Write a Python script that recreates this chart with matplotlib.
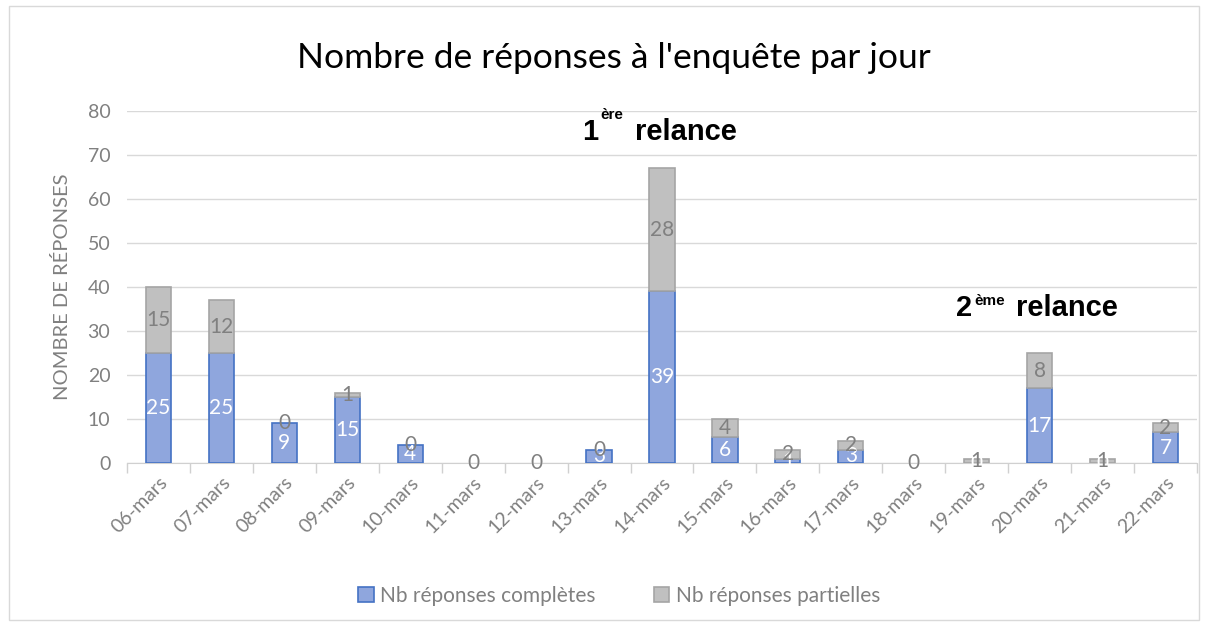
import matplotlib.pyplot as plt
import numpy as np
from matplotlib.patches import Rectangle

plt.rcParams['font.family'] = ['Lato', 'DejaVu Sans']

# jours et nombre de réponses
jours = ["06-mars", "07-mars", "08-mars", "09-mars", "10-mars", "11-mars", "12-mars",
         "13-mars", "14-mars", "15-mars", "16-mars", "17-mars", "18-mars", "19-mars",
         "20-mars", "21-mars", "22-mars"]
completes = [25, 25, 9, 15, 4, 0, 0, 3, 39, 6, 1, 3, 0, 0, 17, 0, 7]
partielles = [15, 12, 0, 1, 0, 0, 0, 0, 28, 4, 2, 2, 0, 1, 8, 1, 2]

GRIS = "#808080"

fig = plt.figure(figsize=(12.06, 6.24), dpi=100)
ax = fig.add_axes([127 / 1206, 1 - 463 / 624, (1197 - 127) / 1206, (463 - 111) / 624])

x = np.arange(len(jours))
# pas de contour pour les barres vides
lw1 = [1.2 if v > 0 else 0 for v in completes]
lw2 = [1.2 if v > 0 else 0 for v in partielles]
b1 = ax.bar(x, completes, width=0.4, color="#8FA6DD", edgecolor="#4472C4", linewidth=lw1,
            label="Nb réponses complètes", zorder=3)
b2 = ax.bar(x, partielles, width=0.4, bottom=completes, color="#C0C0C0", edgecolor="#A5A5A5",
            linewidth=lw2, label="Nb réponses partielles", zorder=3)

ax.bar_label(b1, label_type="center", color="white", fontsize=15, zorder=4)
ax.bar_label(b2, label_type="center", color=GRIS, fontsize=15, zorder=4)

ax.set_xlim(-0.5, len(jours) - 0.5)
ax.set_ylim(0, 80)
ax.set_yticks(range(0, 81, 10))
ax.tick_params(axis="y", length=0, labelsize=14, labelcolor=GRIS, pad=12)
ax.set_xticks(x)
ax.set_xticklabels(jours, rotation=45, ha="right", rotation_mode="anchor")
ax.tick_params(axis="x", which="major", length=0, labelsize=14, labelcolor=GRIS, pad=8)
ax.set_xticks(np.arange(-0.5, len(jours), 1), minor=True)
ax.tick_params(axis="x", which="minor", length=7, color="#D0D0D0", width=1)
ax.grid(axis="y", color="#D9D9D9", linewidth=1, zorder=0)
for s in ["top", "right", "left"]:
    ax.spines[s].set_visible(False)
ax.spines["bottom"].set_color("#D0D0D0")

ax.set_ylabel("NOMBRE DE RÉPONSES", color=GRIS, fontsize=14.5, labelpad=12)

fig.text(614 / 1206, 1 - 58 / 624, "Nombre de réponses à l'enquête par jour", ha="center",
         va="center", fontsize=25.5, color="black")

# annotations des relances
ann = dict(fontsize=21, fontweight="bold", color="black", family="Liberation Sans")
ax.text(6.86, 75.2, "1", ha="center", va="center", **ann)
ax.text(7.2, 79.2, "ère", ha="center", va="center", fontsize=11, fontweight="bold",
        family="Liberation Sans")
ax.text(8.38, 75.2, "relance", ha="center", va="center", **ann)
ax.text(12.8, 35.3, "2", ha="center", va="center", **ann)
ax.text(13.2, 36.8, "ème", ha="center", va="center", fontsize=11, fontweight="bold",
        family="Liberation Sans")
ax.text(14.43, 35.3, "relance", ha="center", va="center", **ann)

leg = fig.legend(loc="center", bbox_to_anchor=(619 / 1206, 1 - 596 / 624), ncol=2, frameon=False,
                 fontsize=15, handlelength=0.75, handleheight=0.75, columnspacing=2.8,
                 handletextpad=0.3)
for t in leg.get_texts():
    t.set_color(GRIS)

fig.patches.append(Rectangle((9 / 1206, 4 / 624), 1190 / 1206, 614 / 624, transform=fig.transFigure,
                             fill=False, edgecolor="#D9D9D9", linewidth=1))

fig.savefig("out.png", dpi=100)
